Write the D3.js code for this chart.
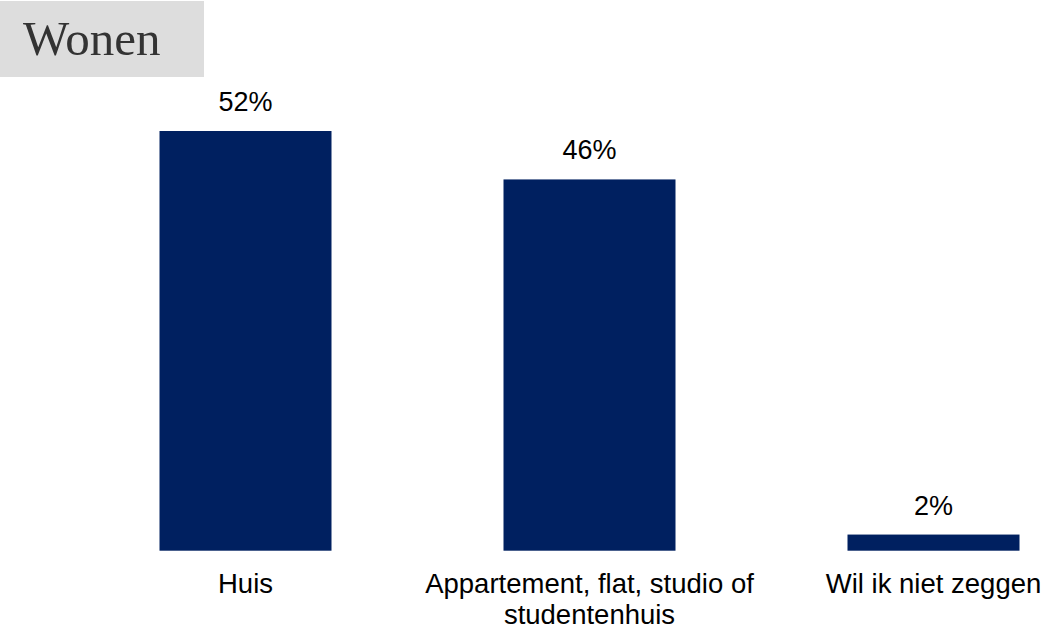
<!DOCTYPE html>
<html>
<head>
<meta charset="utf-8">
<script src="https://cdn.jsdelivr.net/npm/d3@7"></script>
<style>
  html, body { margin: 0; padding: 0; background: #ffffff; }
  svg { display: block; }
</style>
</head>
<body>
<script>
const categories = ["Huis", "Appartement, flat, studio of studentenhuis", "Wil ik niet zeggen"];
const categoryLines = [["Huis"], ["Appartement, flat, studio of", "studentenhuis"], ["Wil ik niet zeggen"]];
const values = [52, 46, 2];
const valueLabels = ["52%", "46%", "2%"];
const title = "Wonen";

const W = 1051, H = 630;
const svg = d3.select("body").append("svg").attr("width", W).attr("height", H);

// Title box
svg.append("rect").attr("x", 0).attr("y", 1).attr("width", 204).attr("height", 76).attr("fill", "#dddddd");
svg.append("text").attr("x", 23).attr("y", 55)
  .attr("font-family", "'Liberation Serif', 'Times New Roman', serif")
  .attr("font-size", 49).attr("fill", "#333333").text(title);

const x = d3.scaleBand().domain(categories).range([73.5, 1105.5]).paddingInner(0.5).paddingOuter(0.25);
const y = d3.scaleLinear().domain([0, 52]).range([550.7, 131]);

const g = svg.append("g");
g.selectAll("rect.bar").data(values).join("rect")
  .attr("class", "bar")
  .attr("x", (d, i) => x(categories[i]))
  .attr("width", x.bandwidth())
  .attr("y", d => y(d))
  .attr("height", d => y(0) - y(d))
  .attr("fill", "#002060");

const font = "'Liberation Sans', Arial, sans-serif";
g.selectAll("text.val").data(values).join("text")
  .attr("class", "val")
  .attr("x", (d, i) => x(categories[i]) + x.bandwidth() / 2)
  .attr("y", d => y(d) - 20)
  .attr("text-anchor", "middle")
  .attr("font-family", font).attr("font-size", 27).attr("fill", "#000")
  .text((d, i) => valueLabels[i]);

// Category axis labels via d3 axis
const axis = d3.axisBottom(x).tickSize(0).tickFormat("");
const ax = svg.append("g").attr("transform", `translate(0,${y(0)})`).call(axis);
ax.select(".domain").remove();
ax.selectAll(".tick").each(function(d, i) {
  const t = d3.select(this).append("text")
    .attr("text-anchor", "middle")
    .attr("font-family", font).attr("font-size", 27.5).attr("fill", "#000");
  categoryLines[i].forEach((line, j) => {
    t.append("tspan").attr("x", 0).attr("y", 42 + j * 31).text(line);
  });
});
</script>
</body>
</html>
